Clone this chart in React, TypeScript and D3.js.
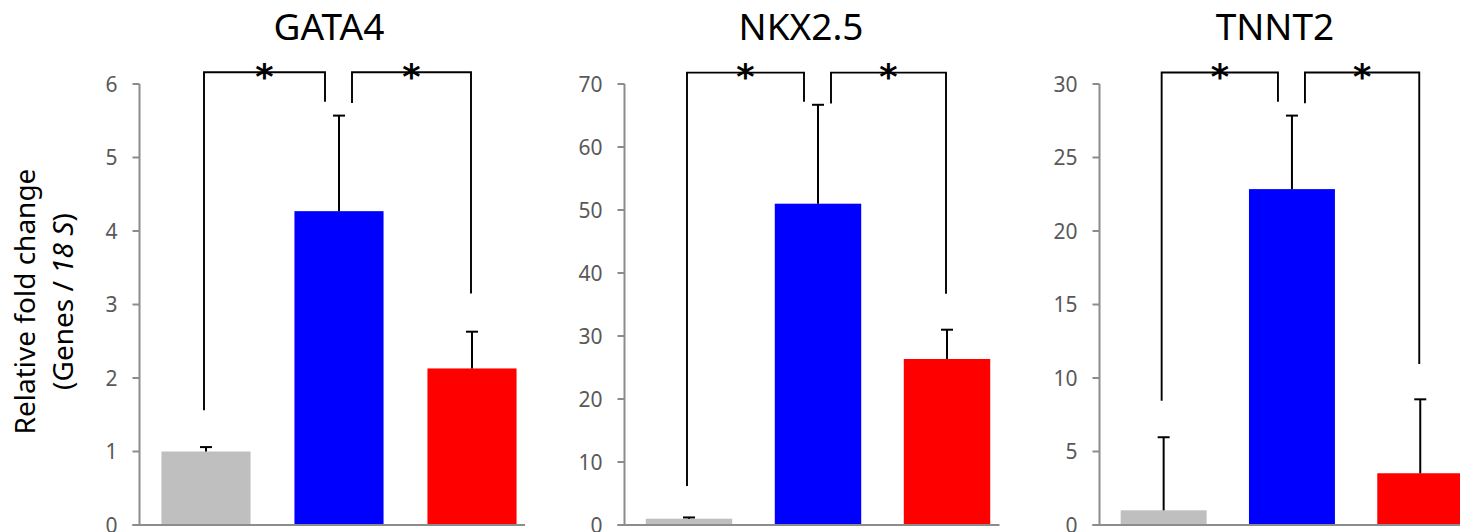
import React from "react";
import * as d3 from "d3";

// ---- data ----
const groups = ["Control", "Treatment A", "Treatment B"];
const barColors = ["#bfbfbf", "#0000ff", "#ff0000"];

const genes = ["GATA4", "NKX2.5", "TNNT2"];
const gata4Means = [1.0, 4.27, 2.13];
const gata4Upper = [1.06, 5.57, 2.63];
const nkx25Means = [1.0, 51.0, 26.35];
const nkx25Upper = [1.2, 66.7, 31.0];
const tnnt2Means = [1.0, 22.85, 3.52];
const tnnt2Upper = [5.97, 27.85, 8.55];

const gata4Ticks = [0, 1, 2, 3, 4, 5, 6];
const nkx25Ticks = [0, 10, 20, 30, 40, 50, 60, 70];
const tnnt2Ticks = [0, 5, 10, 15, 20, 25, 30];

// significance brackets: [top level, left-arm end 1, right-arm end 1, left-arm end 2, right-arm end 2]
const gata4Bracket = [6.16, 1.56, 5.76, 5.74, 3.15];
const nkx25Bracket = [71.8, 6.2, 67.2, 66.9, 36.7];
const tnnt2Bracket = [30.78, 8.46, 28.8, 28.69, 10.96];
const sigLabel = "*";

const yLabelLine1 = "Relative fold change";

// ---- layout ----
const W = 1460;
const H = 532;
const plotTop = 84;
const plotBottom = 525;
const panelLayout = [
  { left: 139.5, step: 133, axisEnd: 525, titleDx: -10 },
  { left: 624.5, step: 129, axisEnd: 999.5, titleDx: -17 },
  { left: 1099.5, step: 128.3, axisEnd: 1470, titleDx: -17 },
];

const panels = [
  { name: genes[0], means: gata4Means, upper: gata4Upper, ticks: gata4Ticks, bracket: gata4Bracket },
  { name: genes[1], means: nkx25Means, upper: nkx25Upper, ticks: nkx25Ticks, bracket: nkx25Bracket },
  { name: genes[2], means: tnnt2Means, upper: tnnt2Upper, ticks: tnnt2Ticks, bracket: tnnt2Bracket },
];

const FONT = "'Noto Sans', 'Open Sans', sans-serif";
const AXIS_COLOR = "#8c8c8c";
const TICK_TEXT = "#595959";

function Panel({ p, lay }: any) {
  const x = d3
    .scaleBand<string>()
    .domain(groups)
    .range([lay.left, lay.left + lay.step * groups.length])
    .paddingInner(0.33)
    .paddingOuter(0.165);
  const yMax = p.ticks[p.ticks.length - 1];
  const y = d3.scaleLinear().domain([0, yMax]).range([plotBottom, plotTop]);
  const bw = x.bandwidth();
  const cx = (g: string) => (x(g) as number) + bw / 2;
  const axisX = lay.left;
  const capHalf = 6;

  const [top, a1, a2, a3, a4] = p.bracket;
  const b1L = cx(groups[0]) - 2;
  const b1R = cx(groups[1]) - 14;
  const b2L = cx(groups[1]) + 13;
  const b2R = cx(groups[2]) - 1;
  const yTop = y(top);

  const bracketPath = (xl: number, xr: number, el: number, er: number) => {
    const p2 = d3.path();
    p2.moveTo(xl, y(el));
    p2.lineTo(xl, yTop);
    p2.lineTo(xr, yTop);
    p2.lineTo(xr, y(er));
    return p2.toString();
  };

  return (
    <g>
      <text
        x={cx(groups[1]) + lay.titleDx}
        y={39.5}
        textAnchor="middle"
        fontFamily={FONT}
        fontSize={37}
        fill="#000"
      >
        {p.name}
      </text>
      {/* bars */}
      {groups.map((g, i) => (
        <rect
          key={g}
          x={x(g)}
          y={y(p.means[i])}
          width={bw}
          height={y(0) - y(p.means[i])}
          fill={barColors[i]}
        />
      ))}
      {/* error bars */}
      {groups.map((g, i) => (
        <g key={"e" + g} stroke="#000" strokeWidth={2}>
          <line x1={cx(g)} x2={cx(g)} y1={y(p.means[i])} y2={y(p.upper[i])} />
          <line x1={cx(g) - capHalf} x2={cx(g) + capHalf} y1={y(p.upper[i])} y2={y(p.upper[i])} />
        </g>
      ))}
      {/* axes */}
      <line x1={axisX} x2={axisX} y1={y(yMax)} y2={y(0)} stroke={AXIS_COLOR} strokeWidth={2} />
      <line x1={axisX - 7} x2={lay.axisEnd} y1={y(0)} y2={y(0)} stroke={AXIS_COLOR} strokeWidth={2} />
      {p.ticks.map((t: number) => (
        <g key={"t" + t}>
          <line x1={axisX - 7} x2={axisX} y1={y(t)} y2={y(t)} stroke={AXIS_COLOR} strokeWidth={2} />
          <text
            x={axisX - 22}
            y={y(t)}
            dy="0.36em"
            textAnchor="end"
            fontFamily={FONT}
            fontSize={21}
            fill={TICK_TEXT}
          >
            {t}
          </text>
        </g>
      ))}
      {/* brackets */}
      <path d={bracketPath(b1L, b1R, a1, a2)} fill="none" stroke="#000" strokeWidth={1.9} />
      <path d={bracketPath(b2L, b2R, a3, a4)} fill="none" stroke="#000" strokeWidth={1.9} />
      <text x={(b1L + b1R) / 2} y={yTop + 16.5} textAnchor="middle" fontFamily="'DejaVu Sans', sans-serif" fontWeight="bold" fontSize={35} fill="#000">
        {sigLabel}
      </text>
      <text x={(b2L + b2R) / 2} y={yTop + 16.5} textAnchor="middle" fontFamily="'DejaVu Sans', sans-serif" fontWeight="bold" fontSize={35} fill="#000">
        {sigLabel}
      </text>
    </g>
  );
}

export default function App() {
  const midY = (plotTop + plotBottom) / 2 - 3;
  return (
    <svg
      width={W}
      height={H}
      style={{ position: "absolute", left: 0, top: 0, display: "block", background: "#fff" }}
    >
      <rect width={W} height={H} fill="#fff" />
      <text
        transform={`translate(35, ${midY}) rotate(-90)`}
        textAnchor="middle"
        fontFamily={FONT}
        fontSize={28}
        fill="#000"
      >
        {yLabelLine1}
      </text>
      <text
        transform={`translate(73, ${midY}) rotate(-90)`}
        textAnchor="middle"
        fontFamily={FONT}
        fontSize={28}
        fill="#000"
      >
        <tspan>(Genes / </tspan>
        <tspan fontStyle="italic">18 S</tspan>
        <tspan>)</tspan>
      </text>
      {panels.map((p, i) => (
        <Panel key={p.name} p={p} lay={panelLayout[i]} />
      ))}
    </svg>
  );
}
